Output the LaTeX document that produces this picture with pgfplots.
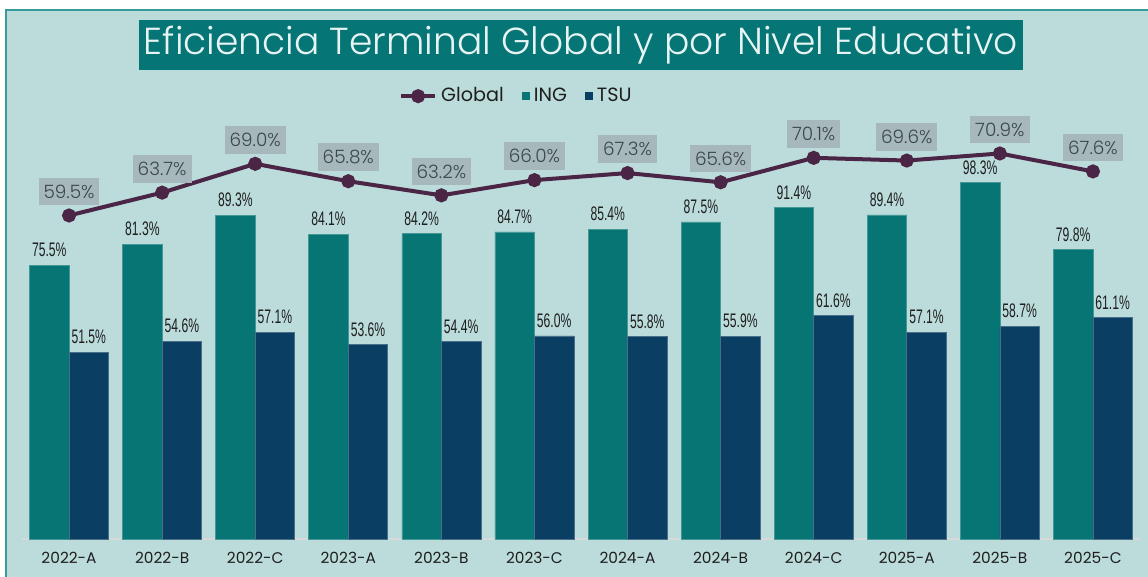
\documentclass[border=0pt]{standalone}
\usepackage{pgfplots}
\pgfplotsset{compat=1.18}
\usepackage{fontspec}
\setmainfont{Poppins}
\newfontfamily\lightfont{Poppins}[UprightFont={* Light}]
\newfontfamily\condfont[FakeStretch=0.62]{Liberation Sans}
\definecolor{bgc}{HTML}{BCDCDC}
\definecolor{framec}{HTML}{3A9A9A}
\definecolor{titlec}{HTML}{067575}
\definecolor{titletext}{HTML}{E8F4F4}
\definecolor{ingc}{HTML}{067574}
\definecolor{tsuc}{HTML}{0B3E63}
\definecolor{linec}{HTML}{4A2545}
\definecolor{glabfill}{HTML}{A7B8BC}
\definecolor{glabtext}{HTML}{3A474C}
\definecolor{labc}{HTML}{1E1E1E}
\definecolor{basec}{HTML}{D9D9D9}
\begin{document}
\begin{tikzpicture}[x=1pt,y=1pt]
\useasboundingbox (0,0) rectangle (574,288.5);
\fill[white] (0,0) rectangle (574,288.5);
\fill[bgc] (3,0) rectangle (574,283.5);
\draw[framec, line width=1pt] (3,0) -- (3,283.5) -- (574,283.5);
\node[fill=titlec, minimum width=442pt, minimum height=25pt, inner sep=0pt, text=titletext, font=\lightfont\fontsize{18.8}{22}\selectfont] at (290.5,266) {Eficiencia Terminal Global y por Nivel Educativo};
\begin{axis}[
  at={(11.25pt,19pt)}, anchor=south west, scale only axis,
  width=558.5pt, height=217.5pt,
  xmin=-0.5, xmax=11.5, ymin=0, ymax=120,
  ybar=0pt, bar width=19.75pt,
  axis line style={draw=none},
  ytick=\empty,
  xtick={0,...,11},
  xticklabels={2022-A,2022-B,2022-C,2023-A,2023-B,2023-C,2024-A,2024-B,2024-C,2025-A,2025-B,2025-C},
  major tick length=0pt,
  xticklabel style={font=\fontsize{7.7}{9}\selectfont, text=labc, anchor=base, yshift=-12.5pt},
  clip=false,
  nodes near coords={\pgfmathprintnumber[assume math mode=true,fixed,fixed zerofill,precision=1]{\pgfplotspointmeta}\%},
  every node near coord/.append style={font=\condfont\fontsize{9.8}{10}\selectfont, text=labc, inner sep=0pt, anchor=south, yshift=4pt},
]
\draw[basec, line width=0.6pt] (axis cs:-0.5,0) -- (axis cs:11.5,0);
\addplot[fill=ingc, draw=ingc!75!white, line width=0.3pt] coordinates {
(0,75.5) (1,81.3) (2,89.3) (3,84.1) (4,84.2) (5,84.7) (6,85.4) (7,87.5) (8,91.4) (9,89.4) (10,98.3) (11,79.8)};
\addplot[fill=tsuc, draw=tsuc!75!white, line width=0.3pt] coordinates {
(0,51.5) (1,54.6) (2,57.1) (3,53.6) (4,54.4) (5,56.0) (6,55.8) (7,55.9) (8,61.6) (9,57.1) (10,58.7) (11,61.1)};
\end{axis}
\begin{axis}[
  at={(11.25pt,19pt)}, anchor=south west, scale only axis,
  width=558.5pt, height=217.5pt,
  xmin=-0.5, xmax=11.5, ymin=0, ymax=80,
  hide axis, clip=false,
  legend style={draw=none, fill=none, at={(0.443,1.018)}, anchor=center,
    legend columns=3, font=\fontsize{9.6}{11}\selectfont, text=labc,
    /tikz/every even column/.append style={column sep=7pt},
    legend cell align=left, inner sep=0pt},
]
\addplot[linec, line width=2pt, mark=*, mark size=2.5pt,
  nodes near coords={\pgfmathprintnumber[assume math mode=true,fixed,fixed zerofill,precision=1]{\pgfplotspointmeta}\%},
  every node near coord/.append style={fill=glabfill, text=glabtext, font=\lightfont\fontsize{9.2}{10}\selectfont, inner xsep=2.5pt, inner ysep=3.5pt, anchor=south, yshift=4pt}]
coordinates {
(0,59.5) (1,63.7) (2,69.0) (3,65.8) (4,63.2) (5,66.0) (6,67.3) (7,65.6) (8,70.1) (9,69.6) (10,70.9) (11,67.6)};
\addlegendentry{Global}
\addlegendimage{legend image code/.code={\fill[ingc] (0pt,-1.8pt) rectangle (3.6pt,1.8pt);}}
\addlegendentry{ING}
\addlegendimage{legend image code/.code={\fill[tsuc] (0pt,-1.8pt) rectangle (3.6pt,1.8pt);}}
\addlegendentry{TSU}
\end{axis}
\end{tikzpicture}
\end{document}
